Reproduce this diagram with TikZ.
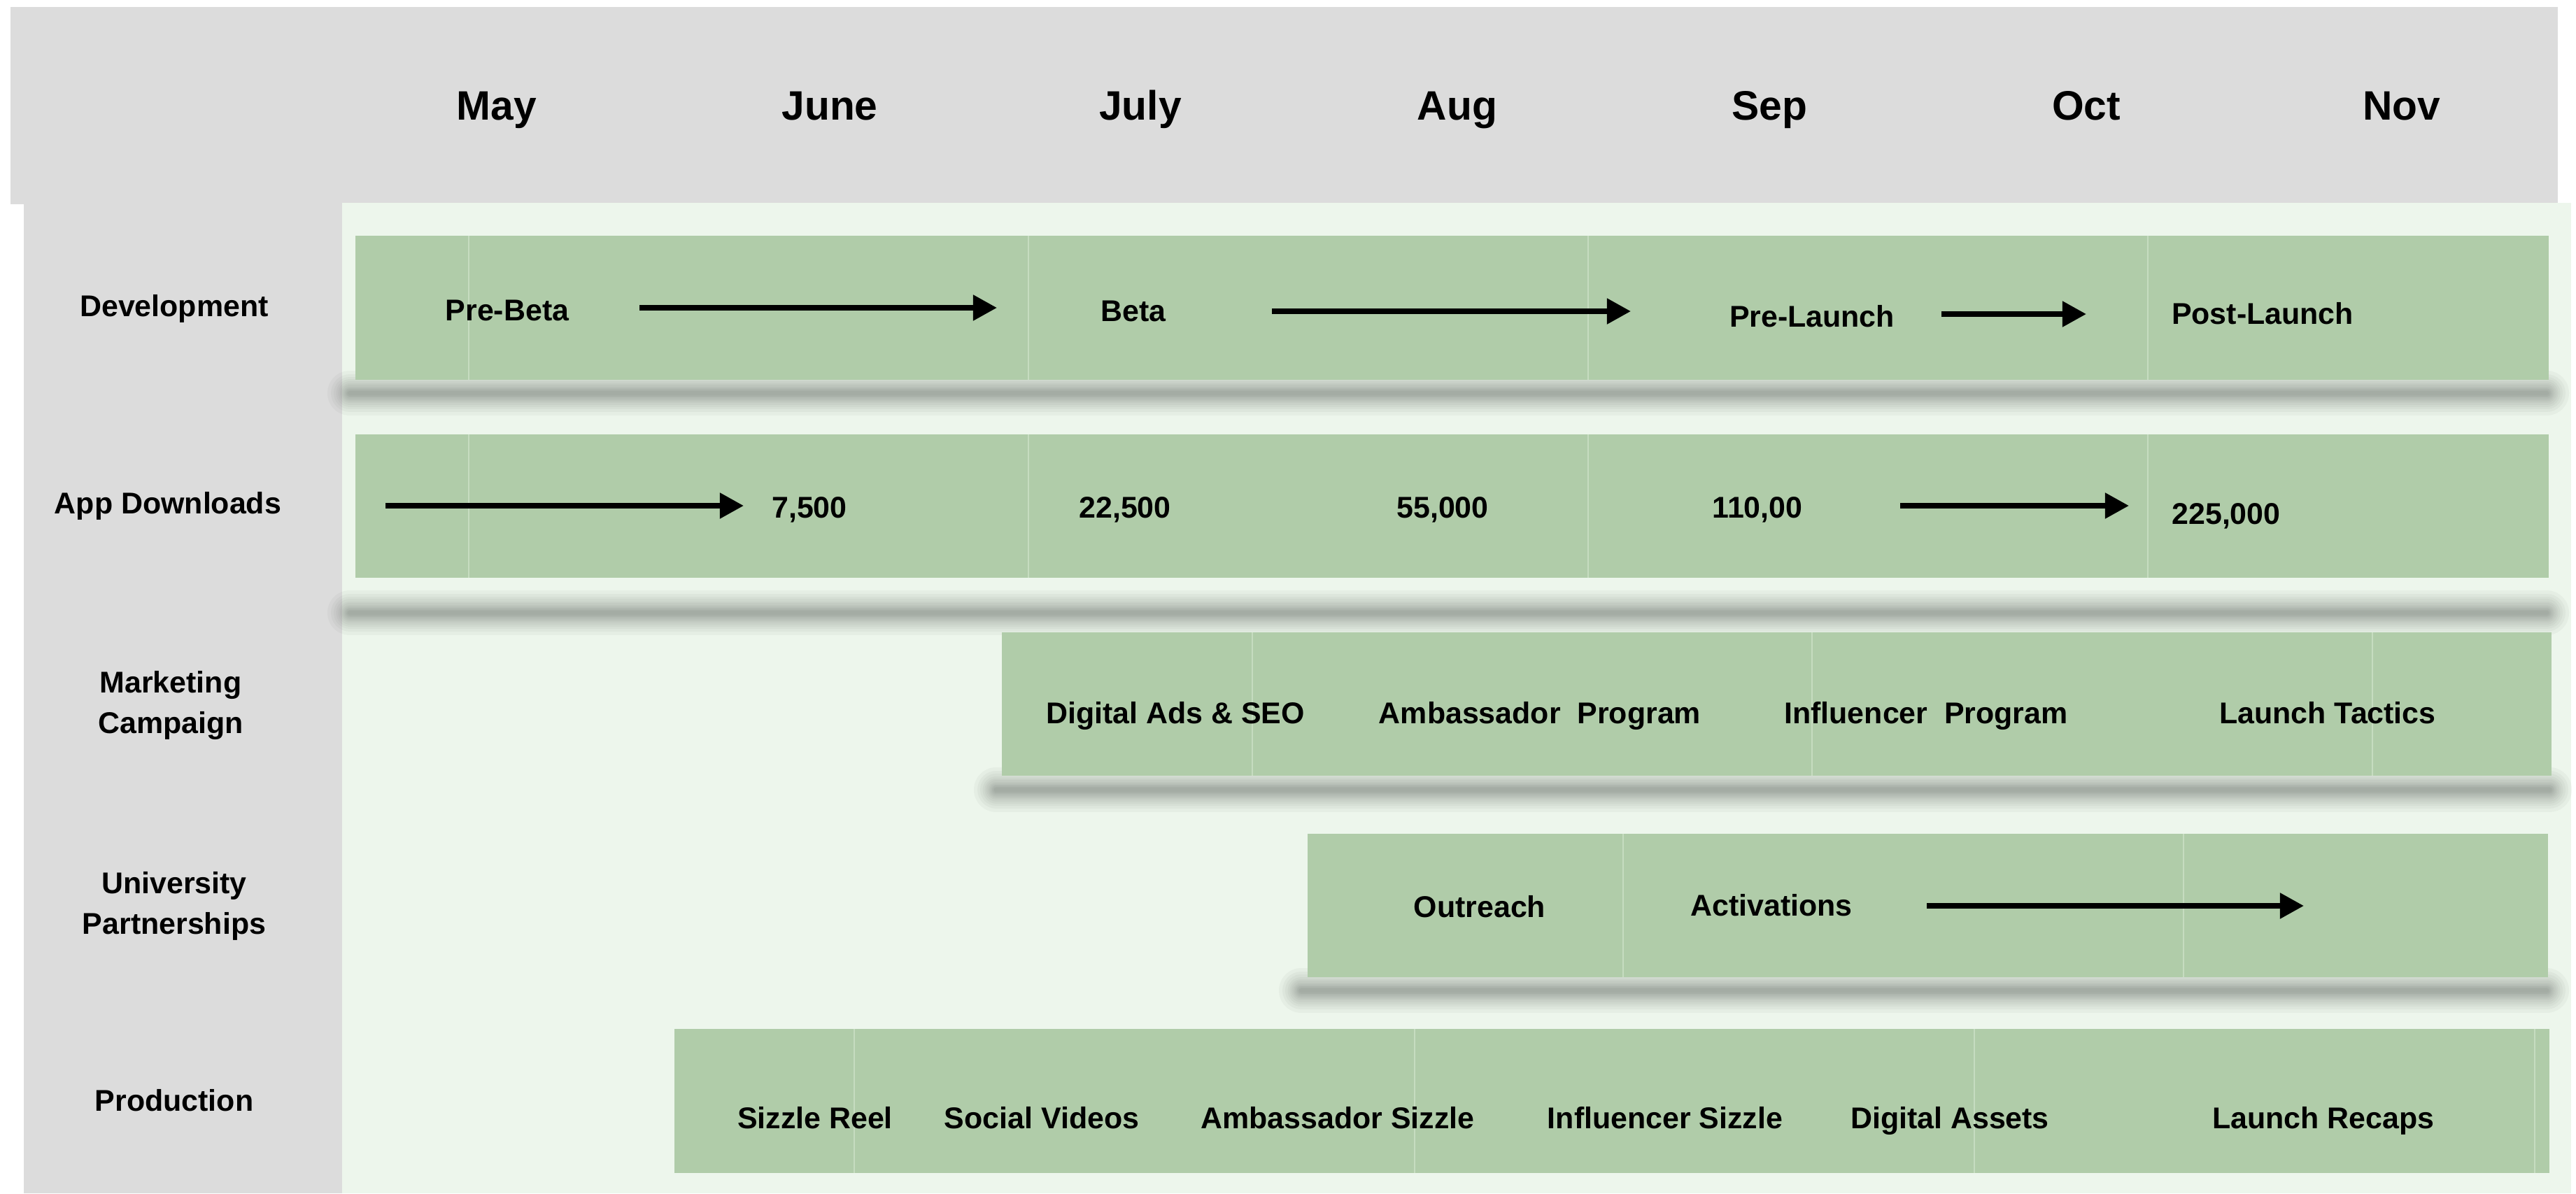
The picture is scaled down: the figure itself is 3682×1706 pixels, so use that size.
\documentclass[tikz,border=0pt]{standalone}
\usepackage{fontspec}
\setmainfont{Liberation Sans}
\usetikzlibrary{arrows.meta}

\definecolor{headgray}{RGB}{220,220,220}
\definecolor{panelgreen}{RGB}{237,246,236}
\definecolor{bargreen}{RGB}{176,204,169}
\definecolor{barseam}{RGB}{198,220,192}
\definecolor{shadowgray}{RGB}{90,98,90}

% soft drop shadow under a bar: stacked translucent strokes,
% thin dark core with a wide faint halo
\newcommand\dropshadow[3]{%
  \foreach \w in {64,54,46,39,33,28,23,19,15,12,9,6}{%
    \pgfmathsetmacro\lw{\w*0.2845}%
    \draw[line width=\lw pt, line cap=round, draw=shadowgray, draw opacity=0.05] (#1,#3) -- (#2,#3);}}

\tikzset{
  month/.style={font=\bfseries\fontsize{16.7}{20}\selectfont, anchor=base, inner sep=0pt},
  rowlabel/.style={font=\bfseries\fontsize{12.2}{16.5}\selectfont, align=center, inner sep=0pt},
  task/.style={font=\bfseries\fontsize{12.2}{14.6}\selectfont, anchor=base, inner sep=0pt},
  flow/.style={line width=2.2pt, -{Triangle[length=9.7pt,width=10pt]}},
  seam/.style={draw=barseam, line width=0.6pt},
  bar/.style={fill=bargreen},
}

\begin{document}
\begin{tikzpicture}[x=0.01cm,y=-0.01cm]
\useasboundingbox (0,0) rectangle (3682,1706);
\fill[white] (0,0) rectangle (3682,1706);

% frame: month header, row-label column, chart panel
\fill[headgray] (15,10) rectangle (3656,292);
\fill[headgray] (34,290) rectangle (489,1706);
\fill[panelgreen] (489,290) rectangle (3675,1706);

% shadows beneath the bars
\dropshadow{500}{3640}{562}
\dropshadow{500}{3640}{876}
\dropshadow{1424}{3644}{1129}
\dropshadow{1860}{3640}{1416}

% bars
\fill[bar] (508,337) rectangle (3643,543);
\fill[bar] (508,621) rectangle (3643,826);
\fill[bar] (1432,904) rectangle (3647,1109);
\fill[bar] (1869,1192) rectangle (3642,1397);
\fill[bar] (964,1471) rectangle (3644,1677);

% month seams inside the bars
\foreach \x in {670,1470,2270,3070}{
  \draw[seam] (\x,337) -- (\x,543);
  \draw[seam] (\x,621) -- (\x,826);}
\foreach \x in {1790,2590,3391}{\draw[seam] (\x,904) -- (\x,1109);}
\foreach \x in {2320,3121}{\draw[seam] (\x,1192) -- (\x,1397);}
\foreach \x in {1221,2022,2822,3623}{\draw[seam] (\x,1471) -- (\x,1677);}

% months
\node[month] (may)  at (710,172)  {May};
\node[month] (jun)  at (1186,172) {June};
\node[month] (jul)  at (1630,172) {July};
\node[month] (aug)  at (2083,172) {Aug};
\node[month] (sep)  at (2529,172) {Sep};
\node[month] (oct)  at (2982,172) {Oct};
\node[month] (nov)  at (3433,172) {Nov};

% row labels
\node[rowlabel, anchor=base] (lDev)  at (249,452)  {Development};
\node[rowlabel, anchor=base] (lApp)  at (240,734)  {App Downloads};
\node[rowlabel] (lMkt)  at (244,1008) {Marketing\\Campaign};
\node[rowlabel] (lUni)  at (249,1295) {University\\Partnerships};
\node[rowlabel, anchor=base] (lProd) at (249,1588) {Production};

% development
\node[task] (preBeta)   at (725,458)  {Pre-Beta};
\node[task] (beta)      at (1620,459) {Beta};
\node[task] (preLaunch) at (2590,467) {Pre-Launch};
\node[task] (postLaunch) at (3234,463) {Post-Launch};
\coordinate (d1s) at (914,440);  \coordinate (d1e) at (1425,440);
\coordinate (d2s) at (1818,445); \coordinate (d2e) at (2331,445);
\coordinate (d3s) at (2775,449); \coordinate (d3e) at (2982,449);
\draw[flow] (d1s) -- (d1e);
\draw[flow] (d2s) -- (d2e);
\draw[flow] (d3s) -- (d3e);

% app downloads
\node[task] (dl1) at (1157,740) {7,500};
\node[task] (dl2) at (1608,740) {22,500};
\node[task] (dl3) at (2062,740) {55,000};
\node[task] (dl4) at (2512,740) {110,00};
\node[task] (dl5) at (3182,749) {225,000};
\coordinate (a1s) at (551,723);  \coordinate (a1e) at (1063,723);
\coordinate (a2s) at (2716,723); \coordinate (a2e) at (3043,723);
\draw[flow] (a1s) -- (a1e);
\draw[flow] (a2s) -- (a2e);

% marketing campaign
\node[task] (mk1) at (1680,1034) {Digital Ads \& SEO};
\node[task] (mk2) at (2201,1034) {Ambassador\ \ Program};
\node[task] (mk3) at (2753,1034) {Influencer\ \ Program};
\node[task] (mk4) at (3327,1034) {Launch Tactics};

% university partnerships
\node[task] (un1) at (2115,1311) {Outreach};
\node[task] (un2) at (2532,1309) {Activations};
\coordinate (u1s) at (2754,1295); \coordinate (u1e) at (3293,1295);
\draw[flow] (u1s) -- (u1e);

% production
\node[task] (pr1) at (1165,1613) {Sizzle Reel};
\node[task] (pr2) at (1489,1613) {Social Videos};
\node[task] (pr3) at (1912,1613) {Ambassador Sizzle};
\node[task] (pr4) at (2380,1613) {Influencer Sizzle};
\node[task] (pr5) at (2787,1613) {Digital Assets};
\node[task] (pr6) at (3321,1613) {Launch Recaps};
\end{tikzpicture}
\end{document}
